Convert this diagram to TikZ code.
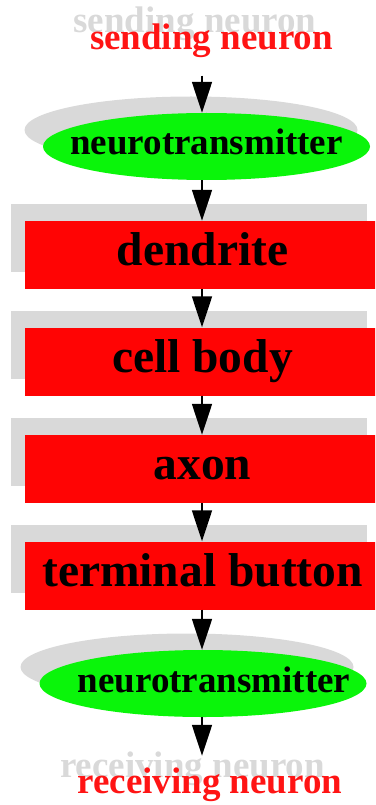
\documentclass[tikz,border=0pt]{standalone}
\usepackage{fontspec}
\setmainfont{Liberation Serif}
\usetikzlibrary{arrows.meta,shapes.geometric}
\definecolor{boxred}{RGB}{255,4,4}
\definecolor{txtred}{RGB}{255,20,20}
\definecolor{nodegreen}{RGB}{10,245,10}
\definecolor{shade}{RGB}{217,217,217}
\begin{document}
\begin{tikzpicture}[x=1pt,y=-1pt,
  shadowbox/.style={rectangle, fill=shade, minimum width=356pt, minimum height=68pt, inner sep=0pt},
  redbox/.style={rectangle, fill=boxred, minimum width=355pt, minimum height=68pt, inner sep=0pt,
    font=\bfseries\fontsize{47.5}{50}\selectfont, text height=30pt, text depth=9pt},
  shadowell/.style={ellipse, fill=shade, minimum width=333pt, minimum height=67pt, inner sep=0pt},
  greenell/.style={ellipse, fill=nodegreen, minimum width=327pt, minimum height=67pt, inner sep=0pt,
    font=\bfseries\fontsize{37}{40}\selectfont, text height=26pt, text depth=9pt},
  endtext/.style={font=\bfseries\fontsize{37}{40}\selectfont, text=txtred, anchor=base},
  endshadow/.style={font=\bfseries\fontsize{37}{40}\selectfont, text=shade, anchor=base},
  flow/.style={line width=1.6pt, -{Triangle[width=20pt,length=31pt]}}
]
\useasboundingbox (0,0) rectangle (375,805);
\clip (0,0) rectangle (375,805);
\coordinate (axis) at (202,0);

% sending neuron
\node[endshadow] (sendsh) at (195,33) {sending neuron};
\node[endtext] (send) at (211.5,50) {sending neuron};

% neurotransmitter 1
\node[shadowell] (nt1sh) at (191,130) {};
\node[greenell] (nt1) at (206.5,146.5) {\makebox[0pt][c]{neurotransmitter}};

% boxes
\node[shadowbox] (b1sh) at (189,238) {};
\node[redbox] (b1) at (202.5,255) {dendrite};
\node[shadowbox] (b2sh) at (189,344.5) {};
\node[redbox] (b2) at (202.5,361.5) {cell body};
\node[shadowbox] (b3sh) at (189,452) {};
\node[redbox] (b3) at (202.5,469) {axon};
\node[shadowbox] (b4sh) at (189,558.5) {};
\node[redbox] (b4) at (202.5,575.5) {terminal button};

% neurotransmitter 2
\node[shadowell] (nt2sh) at (187,667) {};
\node[greenell] (nt2) at (203,683.5) {\makebox[0pt][c]{\hspace*{22pt}neurotransmitter}};

% receiving neuron
\node[endshadow] (recvsh) at (192.5,777) {receiving neuron};
\node[endtext] (recv) at (210,793) {receiving neuron};

% connectors
\draw[flow, shorten <=14pt] (send.south -| axis) -- (nt1.north -| axis);
\draw[flow] (nt1.south -| axis) -- (b1.north -| axis);
\draw[flow] (b1.south -| axis) -- (b2.north -| axis);
\draw[flow] (b2.south -| axis) -- (b3.north -| axis);
\draw[flow] (b3.south -| axis) -- (b4.north -| axis);
\draw[flow] (b4.south -| axis) -- (nt2.north -| axis);
\draw[flow, shorten >=8pt] (nt2.south -| axis) -- (recv.north -| axis);
\end{tikzpicture}
\end{document}
